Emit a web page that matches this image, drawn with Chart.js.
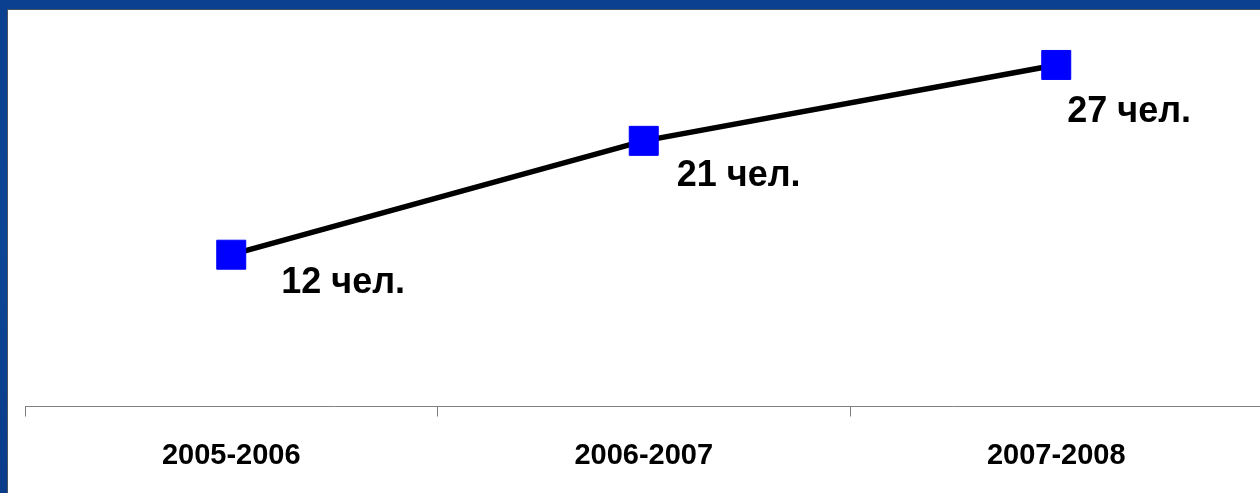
<!DOCTYPE html>
<html>
<head>
<meta charset="utf-8">
<script src="https://cdn.jsdelivr.net/npm/chart.js@4.4.1/dist/chart.umd.min.js"></script>
<style>
  html, body { margin: 0; padding: 0; }
  body {
    width: 1260px; height: 493px; overflow: hidden; position: relative;
    background: linear-gradient(180deg, #0b3f8f 0%, #0d4596 50%, #0a3c8a 100%);
  }
  .panel {
    position: absolute; left: 7px; top: 9px; right: 0; bottom: 0;
    background: #fff;
    border-top: 1px solid #4a5560; border-left: 1px solid #4a5560;
  }
  #chart { position: absolute; left: 0; top: 0; }
</style>
</head>
<body>
<div class="panel"></div>
<canvas id="chart" width="1284" height="493"></canvas>
<script>
// School years and number of people
const years = ['2005-2006', '2006-2007', '2007-2008'];
const people = [12, 21, 27];
const unit = 'чел.';

// value labels drawn to the lower right of each marker
const valueLabels = {
    id: 'valueLabels',
    afterDatasetsDraw(chart, args, opts) {
        const ctx = chart.ctx;
        const meta = chart.getDatasetMeta(0);
        ctx.save();
        ctx.font = 'bold 36px "Liberation Sans", Arial, sans-serif';
        ctx.fillStyle = '#000';
        ctx.textAlign = 'left';
        ctx.textBaseline = 'alphabetic';
        meta.data.forEach((pt, i) => {
            const off = opts.offsets[i];
            ctx.fillText(people[i] + ' ' + unit, pt.x + off[0], pt.y + off[1]);
        });
        ctx.restore();
    }
};

new Chart(document.getElementById('chart'), {
    type: 'line',
    data: {
        labels: years,
        datasets: [{
            data: people,
            borderColor: '#000',
            borderWidth: 5.5,
            pointStyle: 'rect',
            pointRadius: 20.5,
            pointBackgroundColor: '#0000ff',
            pointBorderColor: '#0000ff',
            pointBorderWidth: 1,
            tension: 0
        }]
    },
    options: {
        responsive: false,
        animation: false,
        layout: { padding: { left: 25, right: 0, top: 27, bottom: 0 } },
        plugins: {
            legend: { display: false },
            tooltip: { enabled: false },
            valueLabels: { offsets: [[50, 38], [33, 45], [11, 57]] }
        },
        scales: {
            x: {
                offset: true,
                afterFit(scale) { scale.height = 86.5; },
                grid: {
                    offset: true,
                    drawOnChartArea: false,
                    tickLength: 10,
                    color: '#808080'
                },
                border: { color: '#808080', width: 1 },
                ticks: {
                    color: '#000',
                    padding: 22,
                    font: { family: '"Liberation Sans", Arial, sans-serif', size: 29, weight: 'bold' }
                }
            },
            y: {
                display: false,
                min: 0,
                max: 30
            }
        }
    },
    plugins: [valueLabels]
});
</script>
</body>
</html>
